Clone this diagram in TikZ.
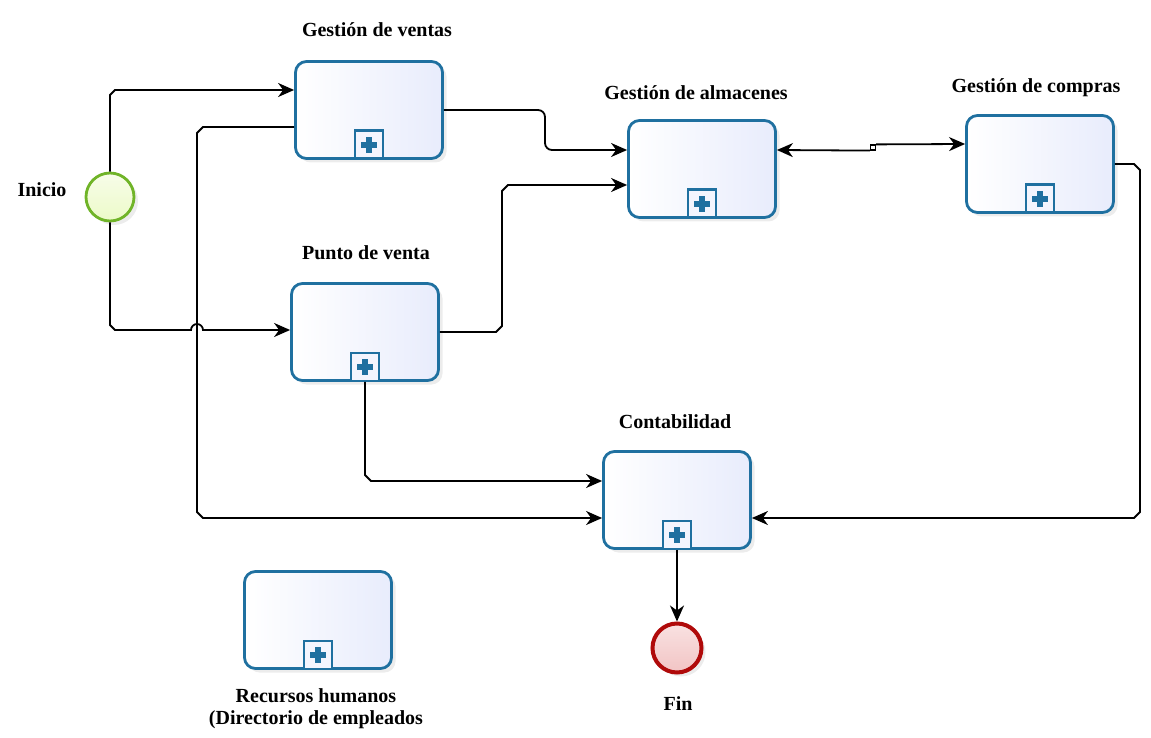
\documentclass[tikz,border=0pt]{standalone}
\usepackage{fontspec}
\setmainfont{Liberation Serif}
\usetikzlibrary{arrows.meta,shadows}
\definecolor{tb}{RGB}{31,112,160}
\definecolor{tfill}{RGB}{232,236,252}
\definecolor{sg}{RGB}{112,180,40}
\definecolor{sfill}{RGB}{236,250,200}
\definecolor{er}{RGB}{176,10,10}
\definecolor{efill}{RGB}{242,196,196}
\newcommand\subproc[1]{%
  \node[plusbox, anchor=south] (#1p) at (#1.south) {};
  \fill[tb] ([shift={(-8pt,-3pt)}]#1p.center) rectangle ([shift={(8pt,3pt)}]#1p.center);
  \fill[tb] ([shift={(-3pt,-8pt)}]#1p.center) rectangle ([shift={(3pt,8pt)}]#1p.center);}
\begin{document}
\begin{tikzpicture}[x=1pt,y=-1pt,
  task/.style={draw=tb, line width=2.8pt, rounded corners=11pt, minimum width=147pt,
    minimum height=97pt, inner sep=0pt, shading=axis, shading angle=-45,
    left color=white, right color=tfill,
    drop shadow={opacity=0.15, shadow xshift=4pt, shadow yshift=-4pt}},
  plusbox/.style={draw=tb, line width=2.4pt, fill=white!50!tfill, minimum size=28pt, inner sep=0pt},
  startev/.style={circle, draw=sg, line width=2.8pt, minimum size=48pt, inner sep=0pt,
    top color=white!60!sfill, bottom color=sfill,
    drop shadow={opacity=0.15, shadow xshift=4pt, shadow yshift=-4pt}},
  endev/.style={circle, draw=er, line width=4pt, minimum size=49pt, inner sep=0pt,
    top color=white!50!efill, bottom color=efill,
    drop shadow={opacity=0.15, shadow xshift=4pt, shadow yshift=-4pt}},
  lbl/.style={font=\bfseries\fontsize{20}{22}\selectfont, align=center, inner sep=0pt},
  flow/.style={line width=1.8pt, -{Stealth[length=16pt,width=14pt,inset=5pt]}}]
\useasboundingbox (0,0) rectangle (1151,738);

% tasks
\node[task] (gv) at (369,110) {};
\node[task] (ga) at (702,169) {};
\node[task] (gc) at (1040,164) {};
\node[task] (pv) at (365,332) {};
\node[task] (ct) at (677,500) {};
\node[task] (rh) at (318,620) {};
\subproc{gv}\subproc{ga}\subproc{gc}\subproc{pv}\subproc{ct}\subproc{rh}

% events
\node[startev] (ini) at (110,197) {};
\node[endev] (fin) at (677,648) {};

% labels
\node[lbl] (lgv) at (377,30) {Gestión de ventas};
\node[lbl] (lga) at (696,93) {Gestión de almacenes};
\node[lbl] (lgc) at (1036,88) {Gestión de compras};
\node[lbl] (lpv) at (366,253) {Punto de venta};
\node[lbl] (lct) at (675,422) {Contabilidad};
\node[lbl, anchor=north] (lrh) at (316,688) {Recursos humanos\\(Directorio de empleados};
\node[lbl] (lini) at (42,190) {Inicio};
\node[lbl] (lfin) at (678,704) {Fin};

% connectors
\draw[flow] (ini.north) -- (110,95) -- (115,90) -- ([yshift=20pt]gv.west);
\draw[flow] (ini.south) -- (110,325) -- (115,330) -- (191,330)
  arc[start angle=180, end angle=360, radius=6] -- ([yshift=2pt]pv.west);
\draw[flow] ([yshift=-17pt]gv.west) -- (203,127) -- (197,133) -- (197,512) -- (203,518) -- ([yshift=-18pt]ct.west);
\draw[flow, rounded corners=7pt] (gv.east) -- (545,110) -- (545,150) -- ([yshift=19pt]ga.west);
\draw[flow] (pv.east) -- (496,332) -- (502,326) -- (502,191) -- (508,185) -- ([yshift=-16pt]ga.west);
\node[draw, line width=1.2pt, minimum size=5pt, inner sep=0pt] (stp) at (873,147.5) {};
\draw[flow] (stp.south west) -- ([yshift=19pt]ga.east);
\draw[flow] (stp.north east) -- ([yshift=20pt]gc.west);
\draw[flow] (gc.east) -- (1134,164) -- (1140,170) -- (1140,512) -- (1134,518) -- ([yshift=-18pt]ct.east);
\draw[flow] (pv.south) -- (365,475) -- (371,481) -- ([yshift=19pt]ct.west);
\draw[flow] (ct.south) -- (fin.north);
\end{tikzpicture}
\end{document}
